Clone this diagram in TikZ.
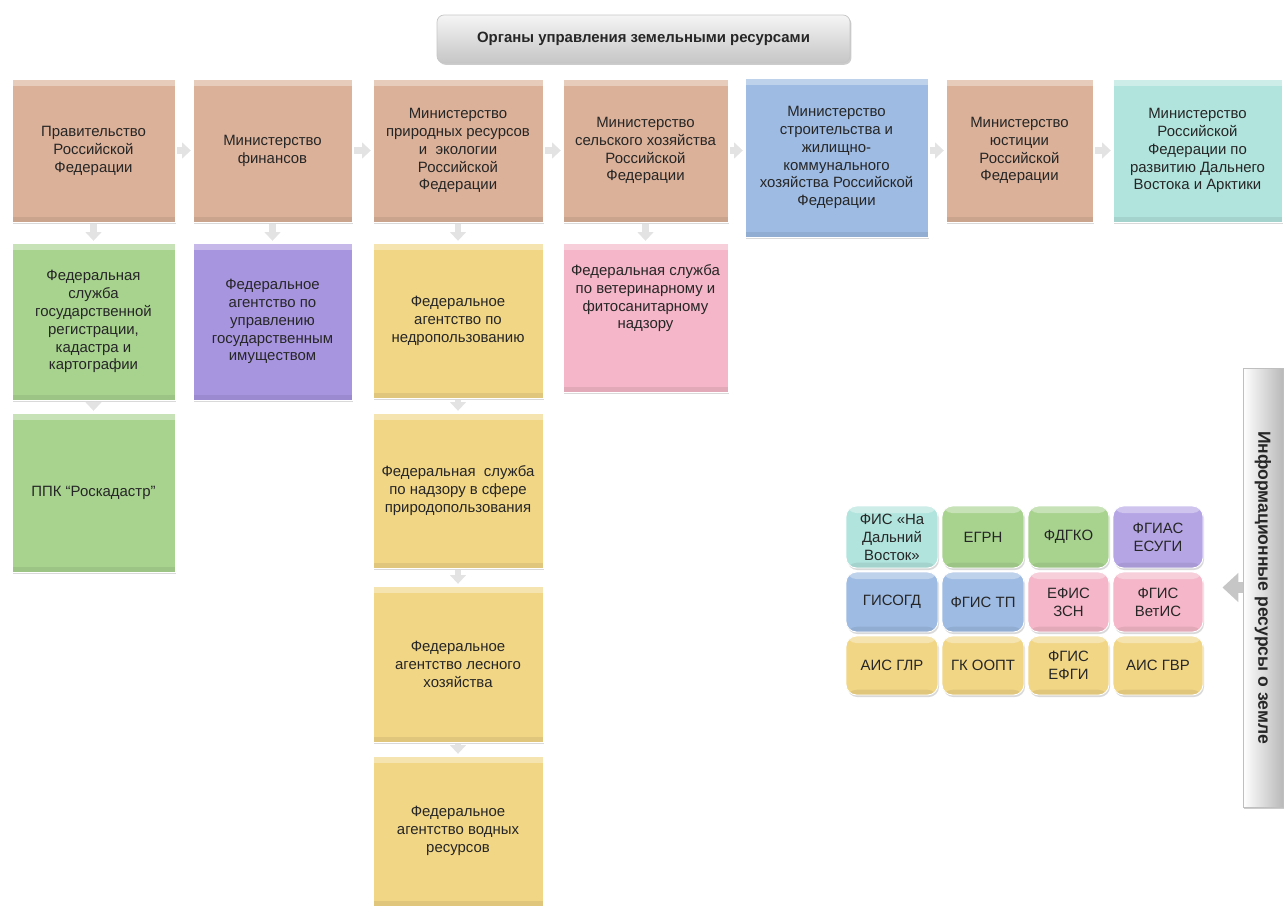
\documentclass[tikz,border=0pt]{standalone}
\usepackage{fontspec}
\setmainfont{Liberation Sans}
\usetikzlibrary{arrows.meta,shadows}

\definecolor{tanbox}{HTML}{DBB199}
\definecolor{bluebox}{HTML}{9EBBE3}
\definecolor{tealbox}{HTML}{B1E4DD}
\definecolor{greenbox}{HTML}{A8D38F}
\definecolor{purplebox}{HTML}{A895E0}
\definecolor{yellowbox}{HTML}{F1D686}
\definecolor{pinkbox}{HTML}{F4B6C8}

\begin{document}
\begin{tikzpicture}
	  [
	    x                       = 0.02cm,
	    y                       = -0.02cm,
	    every node/.style       = {font=\fontsize{8.5}{10.2}\selectfont, text=black!85, align=center, inner sep=2pt},
	    boxsize/.style 2 args   = {minimum width=#1*0.02cm, minimum height=#2*0.02cm},
	    org/.style              = {
			rectangle, draw=white, line width=0.5pt,
			drop shadow={shadow xshift=0.6pt, shadow yshift=-1.2pt, fill=black, opacity=0.15},
			path picture={
				\fill [white, opacity=0.35] (path picture bounding box.north west) rectangle ([yshift=-4pt]path picture bounding box.north east);
				\fill [black, opacity=0.07] (path picture bounding box.south west) rectangle ([yshift=3pt]path picture bounding box.south east);
			}
		},
	    cell/.style             = {
			org, rounded corners=6pt
		},
	    title/.style            = {
			rectangle, rounded corners=4pt, draw=gray!45,
			top color=gray!8, bottom color=gray!45,
			font=\bfseries\fontsize{8.5}{10.2}\selectfont,
			drop shadow={shadow xshift=0.8pt, shadow yshift=-1pt, fill=black, opacity=0.2}
		},
	    link/.style             = {
			draw=gray!22, line width=3.5pt,
			-{Triangle[length=5pt, width=9pt]}, shorten <=1pt, shorten >=1pt
		},
	    biglink/.style          = {
			draw=gray!45, line width=6pt,
			-{Triangle[length=9pt, width=16pt]}
		}
		]
		\useasboundingbox (0,0) rectangle (1287,906);

		% header
		\node [title, boxsize={413}{48}] (head) at (643.5,39) {Органы управления земельными ресурсами};

		% ministries
		\node [org, fill=tanbox, boxsize={163}{143}] (gov) at (93.5,150.5) {Правительство\\Российской\\Федерации};
		\node [org, fill=tanbox, boxsize={159}{143}] (minfin) at (272.5,150.5) {Министерство\\финансов};
		\node [org, fill=tanbox, boxsize={170}{143}] (minprir) at (458,150.5) {Министерство\\природных ресурсов\\и~~экологии\\Российской\\Федерации};
		\node [org, fill=tanbox, boxsize={165}{143}] (msh) at (645.5,150.5) {Министерство\\сельского хозяйства\\Российской\\Федерации};
		\node [org, fill=bluebox, boxsize={183}{159}] (minstroy) at (836.5,157.5) {Министерство\\строительства и\\жилищно-\\коммунального\\хозяйства Российской\\Федерации};
		\node [org, fill=tanbox, boxsize={147}{143}] (minjust) at (1019.5,150.5) {Министерство\\юстиции\\Российской\\Федерации};
		\node [org, fill=tealbox, boxsize={169}{143}] (minvostok) at (1197.5,150.5) {Министерство\\Российской\\Федерации по\\развитию Дальнего\\Востока и Арктики};

		% services and agencies
		\node [org, fill=greenbox, boxsize={163}{157}] (rosreestr) at (93.5,321.5) {Федеральная\\служба\\государственной\\регистрации,\\кадастра и\\картографии};
		\node [org, fill=purplebox, boxsize={159}{157}] (rosim) at (272.5,321.5) {Федеральное\\агентство по\\управлению\\государственным\\имуществом};
		\node [org, fill=yellowbox, boxsize={170}{155}] (nedra) at (458,320.5) {Федеральное\\агентство по\\недропользованию};
		\node [org, fill=pinkbox, boxsize={165}{149}] (rsn) at (645.5,317.5) {Федеральная служба\\по ветеринарному и\\фитосанитарному\\надзору\\[1.6em]};
		\node [org, fill=greenbox, boxsize={163}{159}] (roskad) at (93.5,492.5) {ППК “Роскадастр”};
		\node [org, fill=yellowbox, boxsize={170}{155}] (rpn) at (458,490.5) {Федеральная~~служба\\по надзору в сфере\\природопользования};
		\node [org, fill=yellowbox, boxsize={170}{156}] (leshoz) at (458,664) {Федеральное\\агентство лесного\\хозяйства};
		\node [org, fill=yellowbox, boxsize={170}{150}] (vodres) at (458,831) {Федеральное\\агентство водных\\ресурсов};

		% information resources
		\node [cell, fill=tealbox, boxsize={92}{62}] (fisdv) at (892,537) {ФИС «На\\Дальний\\Восток»};
		\node [cell, fill=greenbox, boxsize={82}{62}] (egrn) at (983,537) {ЕГРН};
		\node [cell, fill=greenbox, boxsize={81}{62}] (fdgko) at (1068.5,537) {ФДГКО};
		\node [cell, fill=purplebox!85!white, boxsize={90}{62}] (esugi) at (1158,537) {ФГИАС\\ЕСУГИ};
		\node [cell, fill=bluebox, boxsize={92}{60}] (gisogd) at (892,602) {ГИСОГД};
		\node [cell, fill=bluebox, boxsize={82}{60}] (fgistp) at (983,602) {ФГИС ТП};
		\node [cell, fill=pinkbox, boxsize={81}{60}] (efis) at (1068.5,602) {ЕФИС\\ЗСН};
		\node [cell, fill=pinkbox, boxsize={90}{60}] (vetis) at (1158,602) {ФГИС\\ВетИС};
		\node [cell, fill=yellowbox, boxsize={92}{59}] (aisglr) at (892,665.5) {АИС ГЛР};
		\node [cell, fill=yellowbox, boxsize={82}{59}] (oopt) at (983,665.5) {ГК ООПТ};
		\node [cell, fill=yellowbox, boxsize={81}{59}] (efgi) at (1068.5,665.5) {ФГИС\\ЕФГИ};
		\node [cell, fill=yellowbox, boxsize={90}{59}] (aisgvr) at (1158,665.5) {АИС ГВР};

		\node [rectangle, draw=gray!50, left color=white, right color=gray!55, boxsize={40}{439},
			drop shadow={shadow xshift=0.8pt, shadow yshift=-1pt, fill=black, opacity=0.2}]
			(bar) at (1263,587.5) {};
		\node [rotate=-90, font=\bfseries\fontsize{10}{12}\selectfont] (bartext) at (bar.center) {Информационные ресурсы о земле};

		% connectors
		\draw [link] (gov.east) -- (minfin.west);
		\draw [link] (minfin.east) -- (minprir.west);
		\draw [link] (minprir.east) -- (msh.west);
		\draw [link] (msh.east) -- (msh.east -| minstroy.west);
		\draw [link] (minjust.west -| minstroy.east) -- (minjust.west);
		\draw [link] (minjust.east) -- (minvostok.west);
		\draw [link] (gov) -- (rosreestr);
		\draw [link] (minfin) -- (rosim);
		\draw [link] (minprir) -- (nedra);
		\draw [link] (msh) -- (rsn);
		\draw [link] (rosreestr) -- (roskad);
		\draw [link] (nedra) -- (rpn);
		\draw [link] (rpn) -- (leshoz);
		\draw [link] (leshoz) -- (vodres);
		\draw [biglink, shorten >=19*0.02cm] (bar.west) -- (bar.west -| vetis.east);
	\end{tikzpicture}
\end{document}
